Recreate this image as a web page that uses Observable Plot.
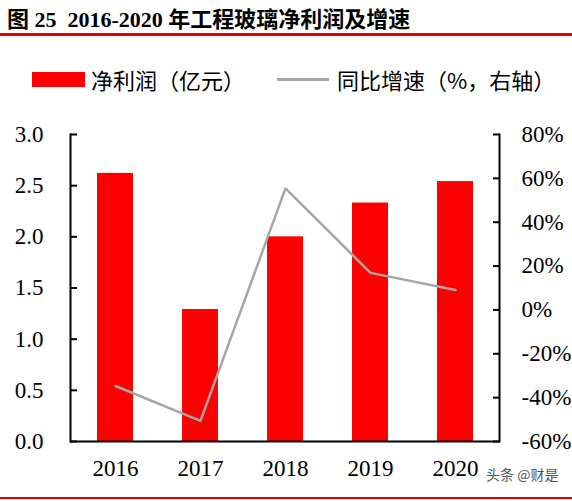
<!DOCTYPE html>
<html>
<head>
<meta charset="utf-8">
<script src="https://cdn.jsdelivr.net/npm/d3@7"></script>
<script src="https://cdn.jsdelivr.net/npm/@observablehq/plot@0.6"></script>
<style>
  html, body { margin: 0; padding: 0; background: #fff; }
  #wrap { position: relative; width: 572px; height: 501px; overflow: hidden; }
  #title { height: 33px; border-bottom: 3px solid #e00000; box-sizing: content-box;
    font-family: "Liberation Serif", "Noto Sans CJK SC", serif; font-weight: bold;
    font-size: 22px; line-height: 22px; padding-left: 7px; }
  #title span { display: inline-block; padding-top: 9px; }
  #legend { position: relative; height: 64px; font-family: "Noto Sans CJK SC", sans-serif;
    font-size: 22px; line-height: 22px; color: #000; }
  .sw { position: absolute; }
  .lt { position: absolute; white-space: nowrap; }
  #bottom { height: 0; border-top: 2px solid #e00000; }
  svg { display: block; }
</style>
</head>
<body>
<div id="wrap">
  <div id="title"><span>图 25&nbsp; 2016-2020 年工程玻璃净利润及增速</span></div>
  <div id="legend">
    <div class="sw" style="left:32px;top:36px;width:53px;height:15px;background:#ff0000;"></div>
    <div class="lt" style="left:91px;top:32px;">净利润（亿元）</div>
    <div class="sw" style="left:277px;top:42px;width:52px;height:3px;background:#a6a6a6;"></div>
    <div class="lt" style="left:337px;top:32px;">同比增速（%，右轴）</div>
  </div>
  <div id="chart"></div>
  <div id="bottom"></div>
</div>
<script>
const years = ["2016", "2017", "2018", "2019", "2020"];
const profit = [2.62, 1.29, 2.00, 2.33, 2.54];
const growth = [-34.7, -50.6, 55.4, 16.9, 9.1];
const leftTicks = [0, 0.5, 1.0, 1.5, 2.0, 2.5, 3.0];
const rightTicks = [-60, -40, -20, 0, 20, 40, 60, 80];

const pMin = -60, pMax = 80, yMax = 3;
const toLeft = p => (p - pMin) / (pMax - pMin) * yMax;
const fromLeft = v => v / yMax * (pMax - pMin) + pMin;

const bars = years.map((y, i) => ({year: y, value: profit[i]}));
const line = years.map((y, i) => ({year: y, g: toLeft(growth[i])}));

const font = "Liberation Serif, Times New Roman, serif";

const chart = Plot.plot({
  width: 572,
  height: 397,
  marginTop: 34,
  marginBottom: 56,
  marginLeft: 70,
  marginRight: 73,
  style: {fontFamily: font, fontSize: "23px", color: "#000", background: "#fff"},
  x: {domain: years, paddingInner: 0.58, paddingOuter: 0.29, label: null},
  y: {domain: [0, yMax], label: null},
  marks: [
    Plot.barY(bars, {x: "year", y: "value", fill: "#ff0000"}),
    Plot.line(line, {x: "year", y: "g", stroke: "#a6a6a6", strokeWidth: 2.5}),
    Plot.axisY({anchor: "left", ticks: leftTicks, tickFormat: d3.format(".1f"),
      tickSize: -7, tickPadding: 34, strokeWidth: 2, label: null, fontSize: 23}),
    Plot.axisY({anchor: "right", ticks: rightTicks.map(toLeft),
      tickFormat: d => Math.round(fromLeft(d)) + "%",
      tickSize: -7, tickPadding: 29, strokeWidth: 2, label: null, fontSize: 23}),
    Plot.axisX({anchor: "bottom", tickSize: 0, tickPadding: 18, label: null, fontSize: 23}),
    Plot.frame({anchor: "left", stroke: "#000", strokeWidth: 2}),
    Plot.frame({anchor: "right", stroke: "#000", strokeWidth: 2}),
    Plot.ruleY([0], {stroke: "#000", strokeWidth: 2}),
    Plot.text(["头条 @财是"], {frameAnchor: "bottom-right", text: d => d, dx: 59, dy: 38,
      textAnchor: "end", fill: "#555", fontSize: 14, fontFamily: "Noto Sans CJK SC"})
  ]
});
document.getElementById("chart").appendChild(chart);
</script>
</body>
</html>
